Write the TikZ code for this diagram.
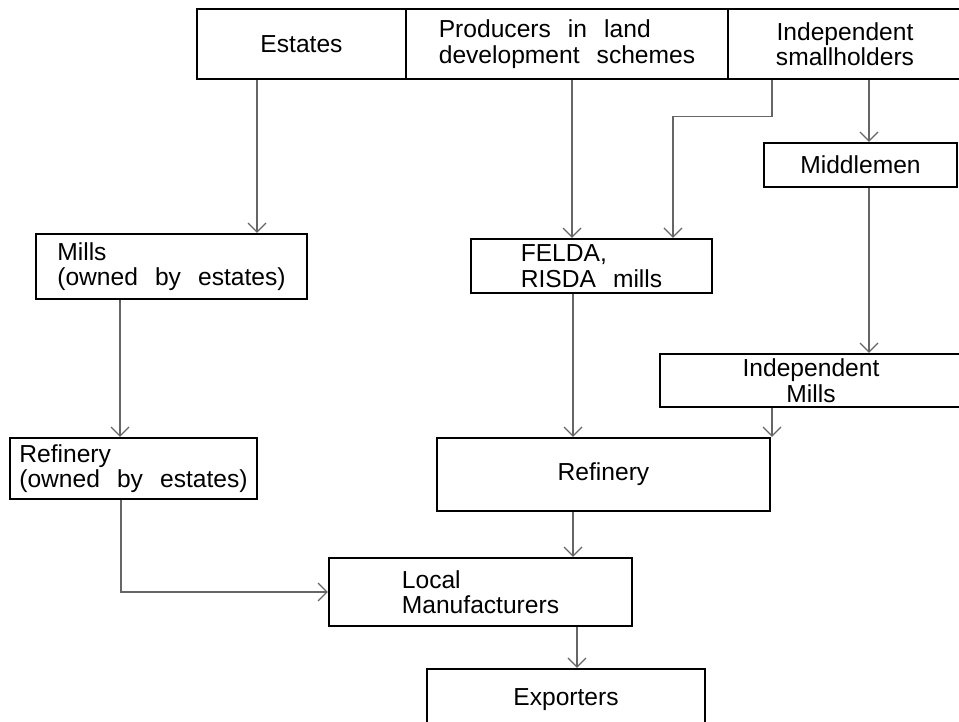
\documentclass[tikz,border=0pt]{standalone}
\usepackage{fontspec}
\setmainfont{Liberation Sans}[WordSpace=2.5]
\usetikzlibrary{arrows.meta}
\tikzset{
    box/.style={rectangle, draw=black, line width=1.3pt, fill=white, inner sep=2pt, align=left, font=\fontsize{14}{14.5}\selectfont},
    cbox/.style={box, align=center},
    arrow/.style={-{Straight Barb[length=1.8mm, width=3.6mm]}, line width=0.7pt, draw=black!60}
}

\begin{document}
\begin{tikzpicture}[x=0.02cm, y=-0.02cm]
        \useasboundingbox (0,0) rectangle (959,722);
        % producers
        \node[box, minimum width=4.18cm, minimum height=1.4cm] (est) at (301.5,44) {Estates};
        \node[box, minimum width=6.44cm, minimum height=1.4cm] (prod) at (567,44) {Producers in land\\development schemes};
        \node[cbox, minimum width=4.68cm, minimum height=1.4cm] (small) at (845,44) {Independent\\smallholders};
        \node[box, minimum width=3.86cm, minimum height=0.88cm] (middle) at (860.5,165) {Middlemen};
        % mills
        \node[box, minimum width=5.42cm, minimum height=1.3cm] (mills) at (171.5,266.5) {Mills\\(owned by estates)};
        \node[box, minimum width=4.82cm, minimum height=1.08cm] (felda) at (591.5,266) {FELDA,\\RISDA mills};
        \node[cbox, minimum width=6.04cm, minimum height=1.06cm] (indmills) at (811,380.5) {Independent\\Mills};
        % refineries and buyers
        \node[box, minimum width=4.94cm, minimum height=1.22cm] (refest) at (133.5,468.5) {Refinery\\(owned by estates)};
        \node[box, minimum width=6.66cm, minimum height=1.46cm] (refin) at (603.5,474.5) {Refinery};
        \node[box, minimum width=6.06cm, minimum height=1.36cm] (local) at (480.5,592) {Local\\Manufacturers};
        \node[box, minimum width=5.56cm, minimum height=1.24cm] (export) at (566,700) {Exporters};
        \draw[arrow] ([xshift=-0.89cm]est.south) -- ([xshift=-0.89cm]est.south |- mills.north);
        \draw[arrow] ([xshift=0.1cm]prod.south) -- ([xshift=0.1cm]prod.south |- felda.north);
        \draw[arrow] ([xshift=-1.46cm]small.south) -- ++(0,36) -| ([xshift=1.63cm]felda.north);
        \draw[arrow] ([xshift=0.48cm]small.south) -- ([xshift=0.48cm]small.south |- middle.north);
        \draw[arrow] ([xshift=0.17cm]middle.south) -- ([xshift=0.17cm]middle.south |- indmills.north);
        \draw[arrow] ([xshift=-1.03cm]mills.south) -- ([xshift=-1.03cm]mills.south |- refest.north);
        \draw[arrow] ([xshift=-0.37cm]felda.south) -- ([xshift=-0.37cm]felda.south |- refin.north);
        \draw[arrow] ([xshift=-0.78cm]indmills.south) -- ([xshift=-0.78cm]indmills.south |- refin.north);
        \draw[arrow] ([xshift=-0.61cm]refin.south) -- ([xshift=-0.61cm]refin.south |- local.north);
        \draw[arrow] ([xshift=-0.25cm]refest.south) |- (local.west);
        \draw[arrow] ([xshift=1.93cm]local.south) -- ([xshift=1.93cm]local.south |- export.north);
    \end{tikzpicture}
\end{document}
